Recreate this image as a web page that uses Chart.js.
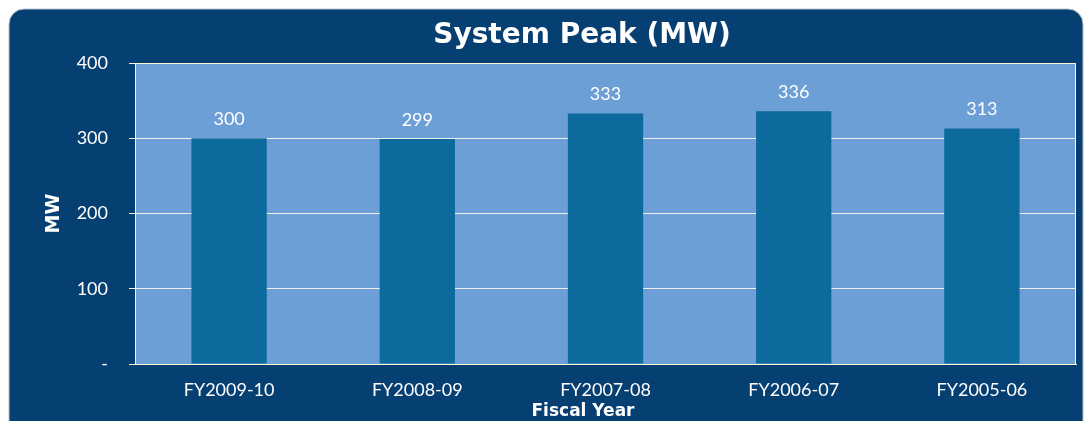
<!DOCTYPE html>
<html>
<head>
<meta charset="utf-8">
<script src="https://cdn.jsdelivr.net/npm/chart.js@4.4.1/dist/chart.umd.min.js"></script>
<style>
    html, body { margin: 0; padding: 0; background: #ffffff; }
    #wrap { width: 1086px; height: 421px; position: relative; }
</style>
</head>
<body>
<div id="wrap"><canvas id="peakChart"></canvas></div>
<script>
const years = ['FY2009-10', 'FY2008-09', 'FY2007-08', 'FY2006-07', 'FY2005-06'];
const peakMW = [300, 299, 333, 336, 313];
const yTicks = [0, 100, 200, 300, 400];

const darkBlue = '#063f72';
const plotBlue = '#6c9fd5';
const barBlue = '#0c6a9d';
const cream = '#fdf9d2';
const fontFamily = "Lato, 'Open Sans', sans-serif";
const heavyFont = "'DejaVu Sans', sans-serif";

//dark rounded panel, plot background, title and x axis caption
const panelPlugin = {
    id: 'panel',
    beforeDraw(chart) {
        const ctx = chart.ctx;
        const a = chart.chartArea;
        ctx.save();
        ctx.fillStyle = '#ffffff';
        ctx.fillRect(0, 0, chart.width, chart.height);
        ctx.beginPath();
        ctx.roundRect(9, 9, 1074, 440, 15);
        ctx.fillStyle = darkBlue;
        ctx.fill();
        ctx.strokeStyle = '#b9c3cc';
        ctx.lineWidth = 1;
        ctx.stroke();
        ctx.fillStyle = plotBlue;
        ctx.fillRect(a.left, a.top, a.right - a.left, a.bottom - a.top);
        ctx.fillStyle = '#ffffff';
        ctx.textAlign = 'center';
        ctx.textBaseline = 'middle';
        ctx.font = "bold 28px " + heavyFont;
        ctx.fillText('System Peak (MW)', 582, 36);
        ctx.font = "bold 17px " + heavyFont;
        ctx.fillText('Fiscal Year', 583, 412);
        ctx.restore();
    },
    afterDraw(chart) {
        const ctx = chart.ctx;
        const a = chart.chartArea;
        ctx.save();
        ctx.strokeStyle = cream;
        ctx.lineWidth = 1;
        ctx.strokeRect(a.left + 0.5, a.top + 0.5, a.right - a.left - 1, a.bottom - a.top);
        ctx.restore();
    }
};

//value labels above the bars
const valueLabels = {
    id: 'valueLabels',
    afterDatasetsDraw(chart) {
        const ctx = chart.ctx;
        const meta = chart.getDatasetMeta(0);
        ctx.save();
        ctx.fillStyle = '#ffffff';
        ctx.font = "18px " + fontFamily;
        ctx.textAlign = 'center';
        ctx.textBaseline = 'middle';
        meta.data.forEach((bar, i) => {
            ctx.fillText(String(peakMW[i]), bar.x, bar.y - 19);
        });
        ctx.restore();
    }
};

new Chart(document.getElementById('peakChart'), {
    type: 'bar',
    data: {
        labels: years,
        datasets: [{
            data: peakMW,
            backgroundColor: barBlue,
            borderWidth: 0,
            categoryPercentage: 1,
            barPercentage: 0.4
        }]
    },
    options: {
        responsive: true,
        maintainAspectRatio: false,
        animation: false,
        layout: {
            padding: { top: 63, right: 10, left: 0, bottom: 0 }
        },
        scales: {
            x: {
                grid: { display: false },
                border: { color: cream },
                ticks: {
                    color: '#ffffff',
                    padding: 7,
                    font: { family: fontFamily, size: 18 }
                },
                afterFit(scale) { scale.height = 57; }
            },
            y: {
                min: 0,
                max: 400,
                afterBuildTicks(scale) {
                    scale.ticks = yTicks.map(v => ({ value: v }));
                },
                grid: {
                    color: '#eef2e6',
                    tickColor: cream,
                    tickLength: 6
                },
                border: { color: cream },
                ticks: {
                    color: '#ffffff',
                    padding: 21,
                    font: { family: fontFamily, size: 18 },
                    callback: v => v === 0 ? '-' : v
                },
                title: {
                    display: true,
                    text: 'MW',
                    color: '#ffffff',
                    padding: { top: 43, bottom: 0 },
                    font: { family: heavyFont, size: 19, weight: 'bold' }
                },
                afterFit(scale) { scale.width = 135; }
            }
        },
        plugins: {
            legend: { display: false },
            tooltip: { enabled: false }
        }
    },
    plugins: [panelPlugin, valueLabels]
});
</script>
</body>
</html>
